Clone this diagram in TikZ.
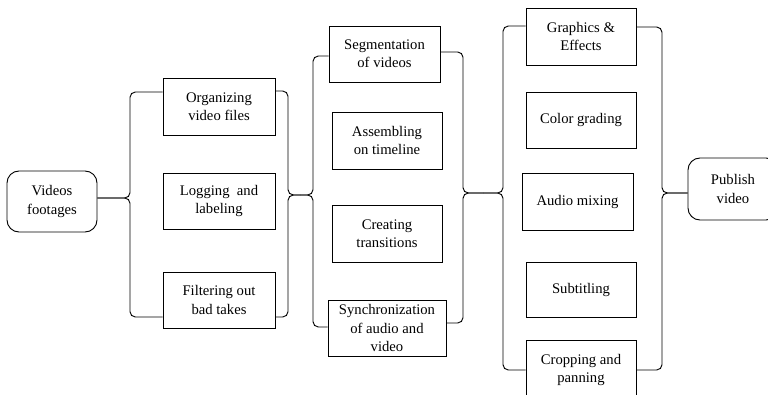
\documentclass[tikz,border=0pt]{standalone}
\usepackage{fontspec}
\setmainfont{Liberation Serif}
\usetikzlibrary{calc}
\begin{document}
\begin{tikzpicture}[x=0.75pt,y=-0.75pt,line width=0.7pt,
  box/.style={draw,align=center,inner sep=0pt,font=\fontsize{11}{13.7}\selectfont},
  rbox/.style={box,rounded corners=9pt},
  sz/.style n args={2}{minimum width=#1*0.75pt,minimum height=#2*0.75pt},
  brace/.style={rounded corners=4pt}]
\useasboundingbox (0,0) rectangle (768,395);

% start and end
\node[rbox,sz={90}{61}] (vid) at (52,201.5) {Videos\\footages};
\node[rbox,sz={90}{62}] (pub) at (733,189) {Publish\\video};

% stage 1: organising
\node[box,sz={112}{57}] (org) at (219,106.5) {Organizing\\video files};
\node[box,sz={112}{56}] (log) at (219,201) {Logging~ and\\labeling};
\node[box,sz={112}{56}] (fil) at (219,300) {Filtering out\\bad takes};

% stage 2: editing
\node[box,sz={111}{56}] (seg) at (384.5,54) {Segmentation\\of videos};
\node[box,sz={110}{57}] (asm) at (387,140.5) {Assembling\\on timeline};
\node[box,sz={110}{57}] (cre) at (387,233.5) {Creating\\transitions};
\node[box,sz={118}{56}] (syn) at (387,328) {Synchronization\\of audio and\\video};

% stage 3: finishing
\node[box,sz={110}{57}] (gfx) at (581,36.5) {Graphics \&\\Effects};
\node[box,sz={110}{56}] (col) at (581,120) {Color grading};
\node[box,sz={111}{57}] (aud) at (577.5,201.5) {Audio mixing};
\node[box,sz={110}{55}] (sub) at (581,289.5) {Subtitling};
\node[box,sz={110}{60}] (crp) at (581,370) {Cropping and\\panning};

% brace corners and joints
\coordinate (v1) at (130,198);
\coordinate (v2) at (288,195);
\coordinate (m1) at (300,195);
\coordinate (v3) at (313,195);
\coordinate (v4) at (463,193);
\coordinate (m2) at (483,193);
\coordinate (v5) at (503,193);
\coordinate (v6) at (662,193);

% braces
\draw[brace] ($(org.west)+(0,-14.5)$) -| (v1) -- (vid.east |- v1);
\draw[brace] ($(fil.west)+(0,17)$) -| (v1) -- (vid.east |- v1);

\draw[brace] ($(org.east)+(0,-15.5)$) -| (v2) -- (m1);
\draw[brace] ($(fil.east)+(0,17)$) -| (v2) -- (m1);

\draw[brace] ($(seg.west)+(0,2)$) -| (v3) -- (m1);
\draw[brace] ($(syn.west)+(0,-1)$) -| (v3) -- (m1);

\draw[brace] ($(seg.east)+(0,-2)$) -| (v4) -- (m2);
\draw[brace] ($(syn.east)+(0,-5)$) -| (v4) -- (m2);

\draw[brace] ($(gfx.west)+(0,-10.5)$) -| (v5) -- (m2);
\draw[brace] ($(crp.west)+(0,0)$) -| (v5) -- (m2);

\draw[brace] ($(gfx.east)+(0,-9.5)$) -| (v6) -- (pub.west |- v6);
\draw[brace] ($(crp.east)+(0,0)$) -| (v6) -- (pub.west |- v6);
\end{tikzpicture}
\end{document}
